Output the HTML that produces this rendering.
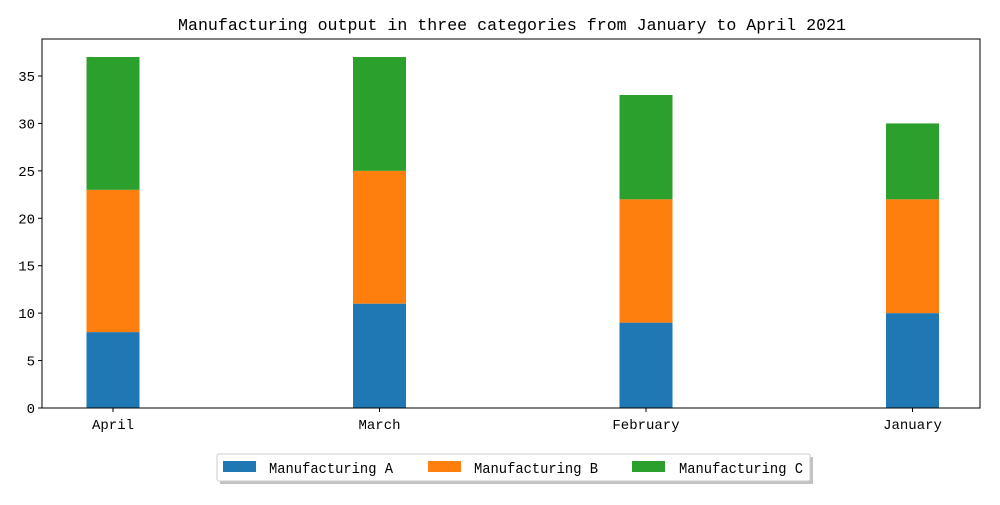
<!DOCTYPE html>
<html><head><meta charset="utf-8"><style>
body{margin:0;background:#fff;}
svg text{font-family:"Liberation Mono","WenQuanYi Zen Hei",monospace;fill:#000;}
</style></head><body>
<svg width="1000" height="500" xmlns="http://www.w3.org/2000/svg">
<text x="178" y="30" font-size="17" textLength="668" lengthAdjust="spacingAndGlyphs">Manufacturing output in three categories from January to April 2021</text>
<g id="bars"></g>
<rect x="42" y="39" width="938" height="369" fill="none" stroke="#000" stroke-width="1"/>
<g id="axes"></g>
<g>
<rect x="220" y="457" width="593" height="27" fill="#999" opacity="0.6"/>
<rect x="217" y="454" width="593" height="27" fill="#fff" stroke="#ccc" rx="2"/>
<g><rect x="223" y="461" width="33" height="11" fill="#1f77b4"/><text x="269" y="473" font-size="15" textLength="124" lengthAdjust="spacingAndGlyphs">Manufacturing A</text></g>
<g><rect x="428" y="461" width="33" height="11" fill="#ff7f0e"/><text x="474" y="473" font-size="15" textLength="124" lengthAdjust="spacingAndGlyphs">Manufacturing B</text></g>
<g><rect x="632" y="461" width="33" height="11" fill="#2ca02c"/><text x="679" y="473" font-size="15" textLength="124" lengthAdjust="spacingAndGlyphs">Manufacturing C</text></g>
</g>
</svg>
<script>
const categories=["April","March","February","January"];
const seriesA=[8,11,9,10];
const seriesB=[15,14,13,12];
const seriesC=[14,12,11,8];
const yTicks=[0,5,10,15,20,25,30,35];
const NS="http://www.w3.org/2000/svg";
const x=i=>113+i*266.5;
const y=v=>408-v*9.486;
const bw=53;
const bars=document.getElementById('bars'),axes=document.getElementById('axes');
function mk(t,a,p){const e=document.createElementNS(NS,t);for(const k in a)e.setAttribute(k,a[k]);p.appendChild(e);return e;}
const series=[[seriesA,"#1f77b4","a"],[seriesB,"#ff7f0e","b"],[seriesC,"#2ca02c","c"]];
categories.forEach((c,i)=>{
 let base=0;
 series.forEach(([s,col,n])=>{
  const r=mk('rect',{x:x(i)-bw/2,y:y(base+s[i]),width:bw,height:y(base)-y(base+s[i]),fill:col},bars);
  
  
  base+=s[i];
 });
 const l=mk('line',{x1:x(i),x2:x(i),y1:408,y2:412,stroke:'#000'},axes);
 
 
 const t=mk('text',{x:x(i),y:429,'font-size':14,'text-anchor':'middle'},axes);
 t.textContent=c;
 
 
});
yTicks.forEach(v=>{
 const l=mk('line',{x1:38,x2:42,y1:y(v),y2:y(v),stroke:'#000'},axes);
 
 
 const t=mk('text',{x:35,y:y(v)+5,'font-size':14,'text-anchor':'end'},axes);
 t.textContent=v;
 
 
});
</script>
</body></html>
